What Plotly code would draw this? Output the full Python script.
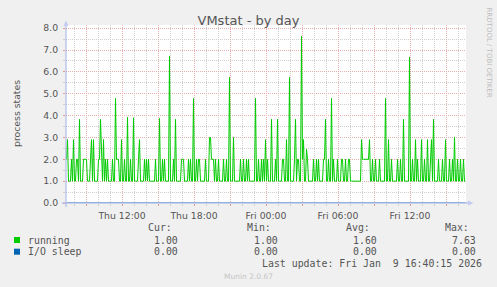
import plotly.graph_objects as go
from datetime import datetime, timedelta

# ---------------- data ----------------
start = datetime(2026, 1, 8, 7, 20)
end = datetime(2026, 1, 9, 16, 40)
step = timedelta(minutes=5)

running = [
    2, 2.9, 1, 1, 1, 2, 1, 2.9, 1, 1,
    2, 2, 1, 3.83, 1, 1, 1, 2, 2, 2,
    2, 1, 1, 1, 2, 2.9, 1, 2.9, 1, 1,
    1, 1, 2, 2, 3.83, 2, 1, 2.9, 1, 2,
    1, 2, 1, 1, 1, 1, 2, 1, 1, 4.79,
    2, 2, 2, 1, 1, 2.9, 1, 1, 2, 1,
    1, 3.92, 1, 1, 2, 1, 1, 3.9, 1, 1,
    1, 1, 2, 2.9, 1, 1, 1, 1, 2, 1,
    2, 1, 2, 1, 1, 1, 1, 1, 1, 2,
    1, 1, 1, 3.87, 1, 1, 2, 1, 2, 1,
    1, 1, 1, 6.73, 1, 1, 1, 2, 1, 3.83,
    1, 1, 1, 1, 1, 2, 2, 2, 1, 1,
    1, 1, 2, 1, 2, 1, 1, 4.79, 1, 1,
    2, 1, 2, 2, 1, 1, 1, 1, 1, 2,
    1, 1, 1, 3, 3, 2, 2, 2, 1, 2,
    1, 1, 2, 1, 1, 1, 1, 2, 1, 1,
    2, 1, 1, 5.75, 1, 1, 1, 3, 1, 1,
    1, 1, 1, 1, 2, 1, 1, 2, 1, 1,
    2, 1, 2, 1, 1, 1, 1, 1, 1, 4.79,
    1, 1, 2, 1, 1, 2, 1, 2, 1, 2.9,
    1, 2, 1, 1, 1, 3.83, 1, 1, 1, 2,
    1, 3.83, 1, 1, 1, 1, 2, 2, 1, 1,
    2.9, 1, 1, 5.75, 1, 1, 1, 1, 2, 3.83,
    1, 2, 2, 1, 1, 7.63, 2, 2.9, 1, 1,
    2.46, 2, 1, 1, 1, 1, 1, 2, 1, 1,
    2, 1, 2, 1, 1, 1, 1, 2, 2, 3.83,
    1, 1, 2, 1, 1, 4.79, 1, 2, 1, 1,
    1, 2, 1, 1, 1, 2, 2, 1, 1, 2,
    1, 1, 2, 2, 1, 1, 1, 1, 1, 1,
    1, 1, 1, 1, 1, 2.9, 2, 2, 2, 2,
    2, 2, 2, 2.9, 1, 1, 2, 1, 1, 2,
    1, 1, 1, 2, 1, 1, 1, 1, 1, 4.79,
    1, 1, 2.9, 1, 1, 2, 1, 1, 1, 1,
    1, 2, 1, 1, 2, 1, 1, 3.83, 1, 1,
    1, 1, 1, 6.67, 1, 1, 2, 1, 1, 2.9,
    1, 2, 1, 1, 1, 2.9, 1, 1, 2, 1,
    1, 2.9, 1, 1, 2, 2.9, 1, 3.83, 1, 1,
    1, 1, 2, 1, 1, 1, 2, 1, 1, 2.9,
    1, 1, 1, 2, 1, 1, 2, 1, 3, 1,
    1, 2, 1, 1, 2, 1, 1, 2, 1, 1,
]
io_sleep = [0.0] * len(running)
times = [start + step * i + timedelta(minutes=2.5) for i in range(len(running))]

x_tick_times = [datetime(2026, 1, 8, 9) + timedelta(hours=3 * k) for k in range(11)]
x_tick_labels = ["", "Thu 12:00", "", "Thu 18:00", "", "Fri 00:00", "",
                 "Fri 06:00", "", "Fri 12:00", ""]
y_tick_vals = [0, 1, 2, 3, 4, 5, 6, 7, 8]
y_tick_labels = ["0.0", "1.0", "2.0", "3.0", "4.0", "5.0", "6.0", "7.0", "8.0"]
y_minor_vals = [0.5, 1.5, 2.5, 3.5, 4.5, 5.5, 6.5, 7.5]

legend_names = ["running", "I/O sleep"]
legend_colors = ["#00CC00", "#0066B3"]
stat_headers = ["Cur:", "Min:", "Avg:", "Max:"]
stats = [["1.00", "1.00", "1.60", "7.63"],
         ["0.00", "0.00", "0.00", "0.00"]]

# ---------------- layout helpers (pixel -> paper) ----------------
L, R, T, B = 66, 466, 25, 203
W, H = 497, 287


def px(x):
    return (x - L) / (R - L)


def py(y):
    return (B - y) / (B - T)


GRID_MAJOR = "#E8AFAF"
GRID_MINOR = "#CFCFCF"
AXIS = "#A3B1E3"
ARROW = "#C5CBF2"
TXT = "#555555"
SANS = "DejaVu Sans"
MONO = "DejaVu Sans Mono"

fig = go.Figure()
fig.add_trace(go.Scatter(x=times, y=running, mode="lines", name="running",
                         line=dict(color=legend_colors[0], width=1),
                         hoverinfo="skip"))
fig.add_trace(go.Scatter(x=times, y=io_sleep, mode="lines", name="I/O sleep",
                         line=dict(color=legend_colors[1], width=1),
                         hoverinfo="skip"))

annotations = []


def ann(text, x, y, xanchor="left", size=9.9, color=TXT, family=MONO, angle=0):
    annotations.append(dict(text=text, x=px(x), y=py(y), xref="paper", yref="paper",
                            xanchor=xanchor, yanchor="middle", showarrow=False,
                            textangle=angle, borderpad=0,
                            font=dict(family=family, size=size, color=color)))


# y-axis title
ann("process states", 16, 114, xanchor="center", size=9.3, family=SANS, angle=-90)
# watermark
ann("RRDTOOL / TOBI OETIKER", 488.5, 53, xanchor="center", size=7,
    color="#BDBDBD", family=SANS, angle=90)
# legend headers
head_right = [172.5, 272, 371, 470]
val_right = [179, 279, 377.7, 476.7]
for h, xr in zip(stat_headers, head_right):
    ann(h, xr, 227.7, xanchor="right")
rows_y = [240, 251.7]
for name, yv, vals in zip(legend_names, rows_y, stats):
    ann(name, 26.5, yv, xanchor="left")
    for v, xr in zip(vals, val_right):
        ann(v, xr, yv, xanchor="right")
ann("Last update: Fri Jan \u00a09 16:40:15 2026", 482.5, 263.3, xanchor="right")
ann("Munin 2.0.67", 248, 276, xanchor="center", size=7.5, color="#C4C4C4", family=SANS)

shapes = []
# legend colour boxes
for col, yv in zip(legend_colors, rows_y):
    shapes.append(dict(type="rect", xref="paper", yref="paper",
                       x0=px(14), x1=px(20), y0=py(yv - 3), y1=py(yv + 3),
                       fillcolor=col, line=dict(width=0)))
# axes
shapes.append(dict(type="line", xref="paper", yref="paper", layer="above",
                   x0=px(62), x1=px(468), y0=py(203), y1=py(203),
                   line=dict(color=AXIS, width=1)))
shapes.append(dict(type="line", xref="paper", yref="paper", layer="above",
                   x0=px(66), x1=px(66), y0=py(207), y1=py(24),
                   line=dict(color=AXIS, width=1)))
# arrows
shapes.append(dict(type="path", xref="paper", yref="paper", layer="above",
                   path=f"M{px(63.5)},{py(26)} L{px(68.5)},{py(26)} L{px(66)},{py(20.5)} Z",
                   fillcolor=ARROW, line=dict(width=0)))
shapes.append(dict(type="path", xref="paper", yref="paper", layer="above",
                   path=f"M{px(468)},{py(200.5)} L{px(468)},{py(205.5)} L{px(473.5)},{py(203)} Z",
                   fillcolor=ARROW, line=dict(width=0)))

fig.update_layout(
    width=W, height=H,
    margin=dict(l=L, r=W - R, t=T, b=H - B, pad=0),
    paper_bgcolor="#F0F0F0", plot_bgcolor="#FFFFFF",
    showlegend=False,
    title=dict(text="VMstat - by day", x=0.5, xref="container", xanchor="center",
               y=1 - 20 / H, yref="container", yanchor="middle",
               font=dict(family=SANS, size=13, color=TXT)),
    xaxis=dict(type="date", range=[start, end], tickvals=x_tick_times,
               ticktext=x_tick_labels, showgrid=True, gridcolor=GRID_MAJOR,
               griddash="1px,1px", gridwidth=1, zeroline=False, showline=False,
               ticks="outside", ticklen=2, tickcolor="#E39A9A",
               tickfont=dict(family=SANS, size=9.3, color=TXT),
               ticklabelstandoff=2,
               minor=dict(tick0=datetime(2026, 1, 8, 8), dtick=3600000,
                          showgrid=True, gridcolor=GRID_MINOR, griddash="1px,1px",
                          ticks="outside", ticklen=2, tickcolor="#D0D0D0"),
               fixedrange=True),
    yaxis=dict(range=[0, (B - T) / 21.85], tickvals=y_tick_vals, ticktext=y_tick_labels,
               showgrid=True, gridcolor=GRID_MAJOR, griddash="1px,1px", gridwidth=1,
               zeroline=False, showline=False, ticks="outside", ticklen=2,
               tickcolor="#E39A9A",
               tickfont=dict(family=SANS, size=9.3, color=TXT),
               ticklabelstandoff=3,
               minor=dict(tickvals=y_minor_vals, showgrid=True, gridcolor=GRID_MINOR,
                          griddash="1px,1px", ticks="outside", ticklen=2,
                          tickcolor="#D0D0D0"),
               fixedrange=True),
    annotations=annotations,
    shapes=shapes,
)

fig.write_html("out.html")
